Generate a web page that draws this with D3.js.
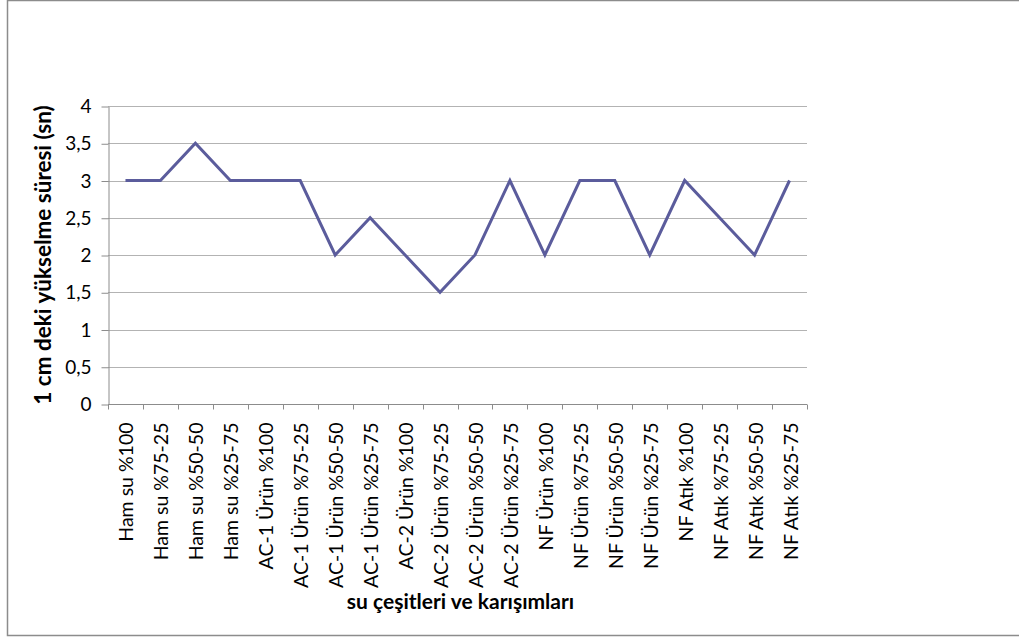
<!DOCTYPE html>
<html>
<head>
<meta charset="utf-8">
<script src="https://cdn.jsdelivr.net/npm/d3@7"></script>
<style>
  html, body { margin: 0; padding: 0; background: #fff; }
  svg { display: block; font-family: Lato, "Open Sans", sans-serif; }
</style>
</head>
<body>
<svg id="chart" width="1019" height="638"></svg>
<script>
// Water types and mixtures along the x axis
const categories = [
  "Ham su %100", "Ham su %75-25", "Ham su %50-50", "Ham su %25-75",
  "AC-1 Ürün %100", "AC-1 Ürün %75-25", "AC-1 Ürün %50-50", "AC-1 Ürün %25-75",
  "AC-2 Ürün %100", "AC-2 Ürün %75-25", "AC-2 Ürün %50-50", "AC-2 Ürün %25-75",
  "NF Ürün %100", "NF Ürün %75-25", "NF Ürün %50-50", "NF Ürün %25-75",
  "NF Atık %100", "NF Atık %75-25", "NF Atık %50-50", "NF Atık %25-75"
];

// Rise time for 1 cm (seconds)
const riseTimes = [3, 3, 3.5, 3, 3, 3, 2, 2.5, 2, 1.5, 2, 3, 2, 3, 3, 2, 3, 2.5, 2, 3];

// Y axis tick values
const yTicks = [0, 0.5, 1, 1.5, 2, 2.5, 3, 3.5, 4];

const svg = d3.select("#chart");

// Chart area frame (left, top, bottom edges)
svg.append("path")
  .attr("d", "M1019,0.5 H7.5 V635.5 H1019")
  .attr("fill", "none")
  .attr("stroke", "#8c8c8c")
  .attr("stroke-width", 1.5);

const plot = { left: 108, right: 807, top: 106, bottom: 404 };

const x = d3.scaleBand()
  .domain(categories)
  .range([plot.left, plot.right])
  .padding(0);

const y = d3.scaleLinear()
  .domain([0, 4])
  .range([plot.bottom, plot.top]);

const fmt = v => String(v).replace(".", ",");

// Horizontal gridlines
svg.append("g")
  .selectAll("line")
  .data(yTicks.filter(d => d > 0))
  .join("line")
  .attr("x1", plot.left)
  .attr("x2", plot.right)
  .attr("y1", d => Math.round(y(d)) + 0.5)
  .attr("y2", d => Math.round(y(d)) + 0.5)
  .attr("stroke", "#b3b3b3")
  .attr("stroke-width", 1);

// Y axis
const yAxis = svg.append("g")
  .attr("transform", `translate(${plot.left + 0.5},0.5)`)
  .call(d3.axisLeft(y).tickValues(yTicks).tickFormat(fmt).tickSize(7).tickSizeOuter(0));
yAxis.select(".domain").attr("stroke", "#8c8c8c");
yAxis.selectAll(".tick line").attr("stroke", "#8c8c8c");
yAxis.selectAll(".tick text")
  .attr("x", -17)
  .attr("font-size", 19)
  .attr("font-family", "Lato, sans-serif")
  .attr("fill", "#000");

// X axis with ticks on category boundaries
const xAxisG = svg.append("g")
  .attr("transform", `translate(0,${plot.bottom + 0.5})`);
xAxisG.append("line")
  .attr("x1", plot.left).attr("x2", plot.right)
  .attr("stroke", "#8c8c8c");
const boundaries = categories.map(c => x(c)).concat([x(categories[categories.length - 1]) + x.bandwidth()]);
xAxisG.selectAll("line.tk")
  .data(boundaries)
  .join("line")
  .attr("class", "tk")
  .attr("x1", d => Math.round(d) + 0.5)
  .attr("x2", d => Math.round(d) + 0.5)
  .attr("y1", 0)
  .attr("y2", 5)
  .attr("stroke", "#8c8c8c");

xAxisG.selectAll("text")
  .data(categories)
  .join("text")
  .attr("transform", d => `translate(${x(d) + x.bandwidth() / 2 + 8},18) rotate(-90)`)
  .attr("text-anchor", "end")
  .attr("font-size", 19.5)
  .attr("fill", "#000")
  .text(d => d);

// Data line
const line = d3.line()
  .x((d, i) => x(categories[i]) + x.bandwidth() / 2)
  .y(d => y(d));

svg.append("path")
  .datum(riseTimes)
  .attr("d", line)
  .attr("fill", "none")
  .attr("stroke", "#5b5c9c")
  .attr("stroke-width", 3)
  .attr("stroke-linejoin", "miter");

// Axis titles
svg.append("text")
  .attr("transform", `translate(51,${(plot.top + plot.bottom) / 2}) rotate(-90)`)
  .attr("text-anchor", "middle")
  .attr("font-size", 22.5)
  .attr("font-weight", "bold")
  .attr("fill", "#000")
  .text("1 cm deki yükselme süresi (sn)");

svg.append("text")
  .attr("x", (plot.left + plot.right) / 2 + 3)
  .attr("y", 609)
  .attr("text-anchor", "middle")
  .attr("font-size", 21)
  .attr("font-weight", "bold")
  .attr("fill", "#000")
  .text("su çeşitleri ve karışımları");
</script>
</body>
</html>
